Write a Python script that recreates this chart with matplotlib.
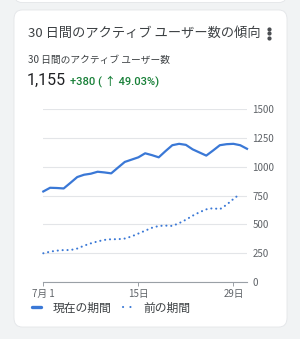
import numpy as np
import matplotlib
matplotlib.use("Agg")
import matplotlib.pyplot as plt
from matplotlib.patches import FancyBboxPatch
from matplotlib.lines import Line2D

plt.rcParams["font.family"] = ["Noto Sans CJK JP", "DejaVu Sans"]

# data (daily active users, July)
current = [785, 817, 815, 811, 860, 910, 930, 939, 956, 950, 942, 992, 1041,
           1061, 1081, 1116, 1100, 1081, 1135, 1186, 1198, 1189, 1150, 1123,
           1096, 1140, 1186, 1195, 1198, 1186, 1155]
previous = [249, 263, 272, 277, 277, 290, 315, 335, 352, 365, 371, 371, 377,
            395, 420, 445, 470, 486, 489, 486, 510, 540, 575, 605, 630, 640,
            631, 670, 720, 765]
x_ticks = [0, 14, 28]
x_labels = ["7月 1", "15日", "29日"]
y_ticks = [0, 250, 500, 750, 1000, 1250, 1500]

W, H = 300, 339
BLUE = "#3a78d6"
GREY_TXT = "#5f6368"
DOTS = (0, (0.05, 2.3))

fig = plt.figure(figsize=(W / 100, H / 100), dpi=100)
fig.patch.set_facecolor("#f1f3f4")


def fx(px):
    return px / W


def fy(py):
    return 1 - py / H


# cards
for top, bottom in [(-30, 2.5), (10, 327)]:
    card = FancyBboxPatch((fx(14), fy(bottom)), fx(273), (bottom - top) / H,
                          boxstyle="round,pad=0,rounding_size=0.027",
                          transform=fig.transFigure, facecolor="white",
                          edgecolor="#e3e5e8", linewidth=0.6, zorder=-10)
    fig.patches.append(card)

# header texts
fig.text(fx(28), fy(33), "30 日間のアクティブ ユーザー数の傾向", fontsize=9.5,
         color="#3c4043", va="center", ha="left")
for dy in (-4.5, 0, 4.5):
    fig.lines.append(Line2D([fx(269)], [fy(33 + dy)], marker="o", markersize=2.0,
                            color="#4a4d51", transform=fig.transFigure))
fig.text(fx(28), fy(60), "30 日間のアクティブ ユーザー数", fontsize=7.0,
         color="#3c4043", va="center", ha="left")
fig.text(fx(26.5), fy(80.5), "1,155", fontsize=11.5, color="#202124",
         va="center", ha="left", family=["Roboto", "DejaVu Sans"])
fig.text(fx(70), fy(81), "+380 ( ↑ 49.03%)", fontsize=8.0, color="#188038",
         va="center", ha="left", fontweight="medium",
         family=["Roboto", "Noto Sans CJK JP", "DejaVu Sans"])

# chart
ax = fig.add_axes([fx(43.3), fy(282), fx(247 - 43.3), (282 - 109) / H])
ax.set_zorder(2)
ax.set_facecolor("none")
ax.plot(np.arange(len(current)), current, color=BLUE, lw=1.6,
        solid_joinstyle="round", clip_on=False, label="現在の期間")
ax.plot(np.arange(len(previous)), previous, color=BLUE, lw=1.5,
        linestyle=DOTS, dash_capstyle="round", clip_on=False,
        label="前の期間")

ax.set_xlim(0, 30)
ax.set_ylim(0, 1500)
ax.set_yticks(y_ticks)
ax.set_yticklabels([str(v) for v in y_ticks])
ax.yaxis.tick_right()
ax.tick_params(axis="y", length=0, pad=4, labelsize=7, labelcolor=GREY_TXT)
ax.set_xticks(x_ticks)
ax.set_xticklabels(x_labels)
ax.tick_params(axis="x", length=3, width=0.7, color="#9aa0a6", pad=2,
               labelsize=7, labelcolor=GREY_TXT)
ax.grid(axis="y", color="#e3e5e8", linewidth=0.8)
for side in ("top", "left", "right"):
    ax.spines[side].set_visible(False)
ax.spines["bottom"].set_color("#9aa0a6")
ax.spines["bottom"].set_linewidth(0.8)

handles = [Line2D([0], [0], color=BLUE, lw=2.4, solid_capstyle="round"),
           Line2D([0], [0], color=BLUE, lw=1.5, linestyle=(0, (0.05, 3.5)),
                  dash_capstyle="round")]
ax.legend(handles, ["現在の期間", "前の期間"], loc="center left",
          bbox_to_anchor=(fx(32), fy(308)), bbox_transform=fig.transFigure,
          ncol=2, frameon=False, fontsize=8.5, handlelength=0.75,
          handletextpad=1.0, columnspacing=1.0, borderpad=0,
          borderaxespad=0, labelcolor="#3c4043")

fig.savefig("out.png", dpi=100, facecolor=fig.get_facecolor())
